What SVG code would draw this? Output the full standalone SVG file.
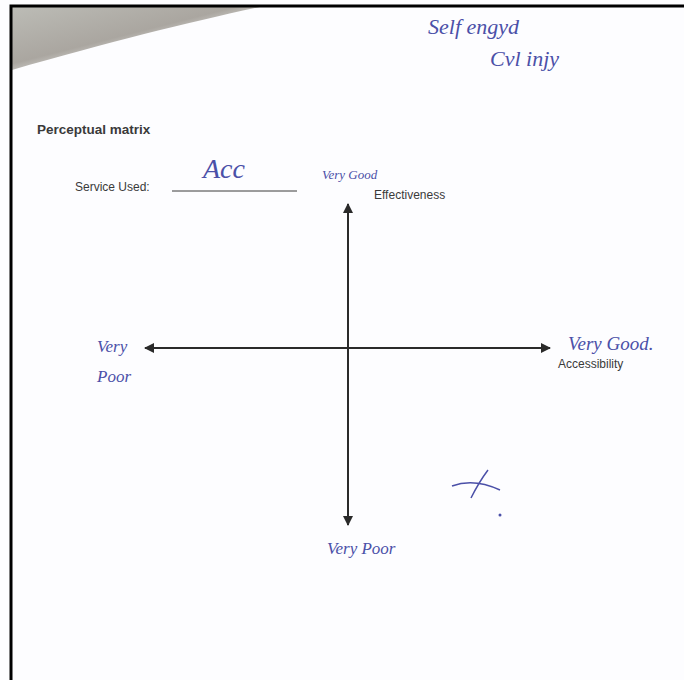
<svg xmlns="http://www.w3.org/2000/svg" width="684" height="680" viewBox="0 0 684 680">
<style>
.print{font-family:"Liberation Sans",Arial,sans-serif;fill:#3a3a3a}
.hand{font-family:"Liberation Serif","DejaVu Serif",serif;font-style:italic;fill:#4b50a8}
.axis{stroke:#2a2a2a;stroke-width:2;fill:none}
</style>
<defs>
<linearGradient id="shadow" x1="0" y1="0" x2="1" y2="1" gradientUnits="objectBoundingBox">
<stop offset="0" stop-color="#bcbcb6"/>
<stop offset="0.45" stop-color="#aaa6a0"/>
<stop offset="0.62" stop-color="#e0e0de"/>
<stop offset="1" stop-color="#fcfcff" stop-opacity="0"/>
</linearGradient>
<marker id="arr" viewBox="0 0 10 10" refX="9" refY="5" markerWidth="5" markerHeight="5" orient="auto-start-reverse">
<path d="M0,0 L10,5 L0,10 z" fill="#2a2a2a"/>
</marker>
</defs>
<rect width="684" height="680" fill="#fdfdff"/>
<path d="M12,7 L260,7 C190,22 110,42 12,70 Z" fill="url(#shadow)"/>
<path d="M11,680 L11,6 L684,6" stroke="#000" stroke-width="3" fill="none"/>
<g id="connectors">
<line class="axis" x1="348" y1="525" x2="348" y2="204" marker-start="url(#arr)" marker-end="url(#arr)"/>
<line class="axis" x1="145" y1="348" x2="550" y2="348" marker-start="url(#arr)" marker-end="url(#arr)"/>
</g>
<g id="title"><text class="print" x="37" y="134" font-size="13.5" font-weight="bold" fill="#222">Perceptual matrix</text></g>
<g id="service"><text class="print" x="75" y="191" font-size="12">Service Used:</text><line x1="172" y1="191" x2="297" y2="191" stroke="#3a3a3a" stroke-width="1"/></g>
<g id="effectiveness"><text class="print" x="374" y="199" font-size="12">Effectiveness</text></g>
<g id="accessibility"><text class="print" x="558" y="368" font-size="12">Accessibility</text></g>
<g id="note1"><text class="hand" x="428" y="34" font-size="22">Self engyd</text><text class="hand" x="490" y="66" font-size="22">Cvl injy</text></g>
<g id="acc"><text class="hand" x="203" y="178" font-size="28">Acc</text></g>
<g id="top-label"><text class="hand" x="322" y="179" font-size="13">Very Good</text></g>
<g id="left-label"><text class="hand" x="97" y="352" font-size="17">Very</text><text class="hand" x="97" y="382" font-size="17">Poor</text></g>
<g id="right-label"><text class="hand" x="568" y="350" font-size="19">Very Good.</text></g>
<g id="bottom-label"><text class="hand" x="327" y="554" font-size="17">Very Poor</text></g>
<g id="mark">
<path d="M452,486 C468,480 485,483 500,490" stroke="#4b50a8" stroke-width="1.5" fill="none"/>
<path d="M488,470 C482,478 476,488 471,498" stroke="#4b50a8" stroke-width="1.5" fill="none"/>
<circle cx="500" cy="515" r="1.5" fill="#4b50a8"/>
</g>
</svg>
